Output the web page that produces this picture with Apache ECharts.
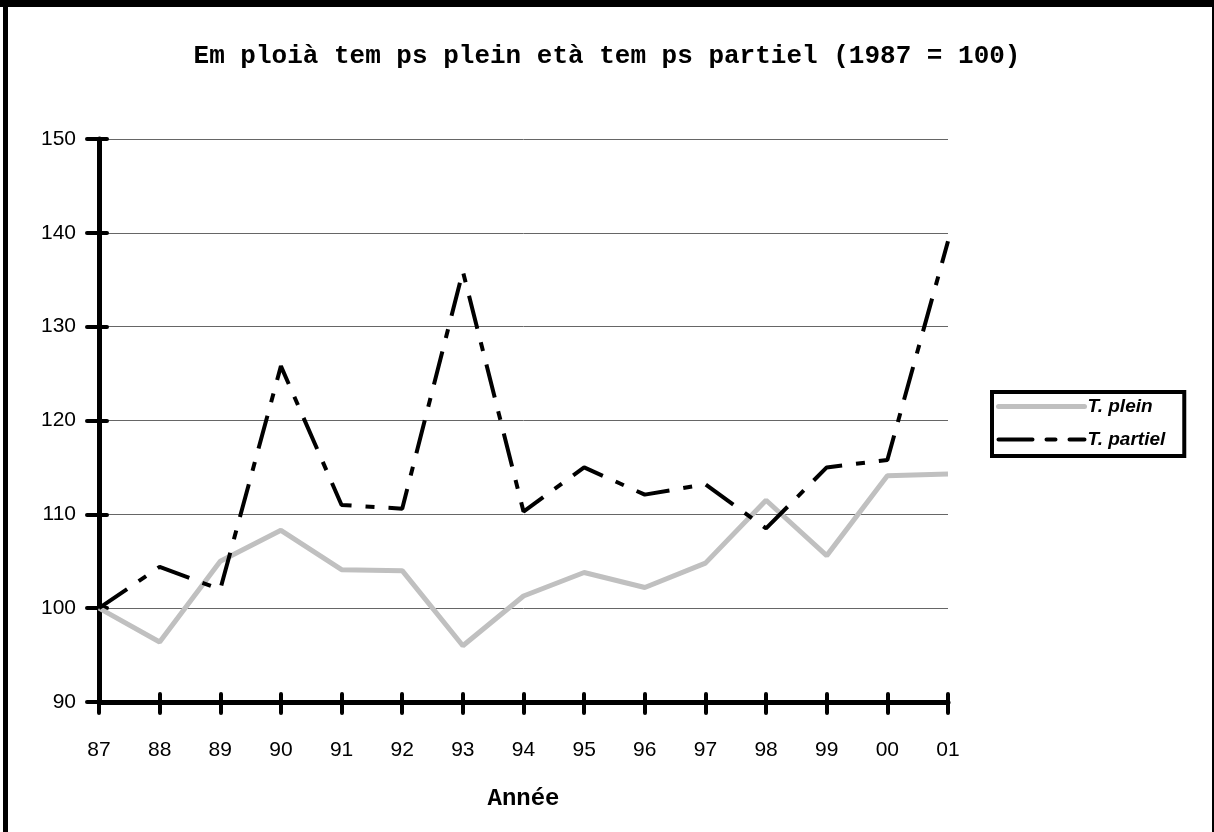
<!DOCTYPE html>
<html>
<head>
<meta charset="utf-8">
<script src="https://cdn.jsdelivr.net/npm/echarts@6/dist/echarts.min.js"></script>
<style>
html,body{margin:0;padding:0;background:#fff;}
#c{width:1214px;height:832px;}
</style>
</head>
<body>
<div id="c"></div>
<script>
const categories = ['87','88','89','90','91','92','93','94','95','96','97','98','99','00','01'];
const tPlein   = [100, 96.4, 105.0, 108.3, 104.1, 104.0, 96.0, 101.3, 103.8, 102.2, 104.8, 111.5, 105.6, 114.1, 114.3];
const tPartiel = [100, 104.4, 102.0, 125.8, 111.0, 110.6, 135.9, 110.3, 115.0, 112.1, 113.2, 108.5, 115.0, 115.8, 139.1];
const titleText = 'Em ploià tem ps plein età tem ps partiel (1987 = 100)';
const xName = 'Année';

const chart = echarts.init(document.getElementById('c'), null, {renderer: 'canvas'});
const gridPos = {left: 99, right: 266, top: 139, bottom: 130};
const labelFont = {fontFamily: 'Liberation Sans, Arial', fontSize: 21, color: '#000'};

chart.setOption({
  backgroundColor: '#fff',
  animation: false,
  title: {
    text: titleText,
    left: 'center',
    top: 38,
    textStyle: {fontFamily: 'Liberation Mono, Courier New, monospace', fontWeight: 'bold', fontSize: 26, color: '#000'}
  },
  graphic: [
    {type: 'rect', shape: {x: 0, y: 0, width: 1214, height: 7}, style: {fill: '#000'}},
    {type: 'rect', shape: {x: 3, y: 0, width: 5, height: 832}, style: {fill: '#000'}},
    {type: 'rect', shape: {x: 1212, y: 0, width: 2, height: 832}, style: {fill: '#000'}}
  ],
  legend: {
    orient: 'vertical',
    left: 992,
    top: 392,
    padding: [5, 19, 7, 4],
    itemGap: 14,
    itemWidth: 86,
    itemHeight: 14,
    borderColor: '#000',
    borderWidth: 4,
    backgroundColor: '#fff',
    itemStyle: {opacity: 0},
    lineStyle: {width: 'inherit', type: 'inherit', cap: 'round'},
    textStyle: {fontFamily: 'Liberation Sans, Arial', fontSize: 19, fontWeight: 'bold', fontStyle: 'italic', color: '#000', padding: [4,0,0,-2]},
    data: ['T. plein', 'T. partiel']
  },
  grid: gridPos,
  xAxis: [{
    type: 'category',
    data: categories,
    boundaryGap: false,
    name: xName,
    nameLocation: 'middle',
    nameGap: 85,
    nameTextStyle: {fontFamily: 'Liberation Mono, Courier New, monospace', fontWeight: 'bold', fontSize: 24, color: '#000'},
    axisLine: {lineStyle: {color: '#000', width: 5}},
    axisTick: {show: true, length: 11, lineStyle: {color: '#000', width: 4, cap: 'round'}},
    axisLabel: Object.assign({margin: 38}, labelFont),
    splitLine: {show: false}
  }, {
    type: 'category',
    data: categories,
    boundaryGap: false,
    position: 'bottom',
    axisLine: {show: false},
    axisTick: {show: true, inside: true, length: 8, lineStyle: {color: '#000', width: 4, cap: 'round'}},
    axisLabel: {show: false},
    splitLine: {show: false}
  }],
  yAxis: [{
    type: 'value',
    min: 90,
    max: 150,
    interval: 10,
    axisLine: {show: true, lineStyle: {color: '#000', width: 5}},
    axisTick: {show: true, length: 12, lineStyle: {color: '#000', width: 4, cap: 'round'}},
    axisLabel: Object.assign({margin: 23}, labelFont),
    splitLine: {show: true, lineStyle: {color: '#666', width: 1}}
  }, {
    type: 'value',
    min: 90,
    max: 150,
    interval: 10,
    position: 'left',
    axisLine: {show: false},
    axisTick: {show: true, inside: true, length: 8, lineStyle: {color: '#000', width: 4, cap: 'round'}},
    axisLabel: {show: false},
    splitLine: {show: false}
  }],
  series: [{
    name: 'T. plein',
    type: 'line',
    data: tPlein,
    symbol: 'none',
    color: '#c0c0c0',
    lineStyle: {color: '#c0c0c0', width: 5},
    z: 3
  }, {
    name: 'T. partiel',
    type: 'line',
    data: tPartiel,
    symbol: 'none',
    color: '#000',
    lineStyle: {color: '#000', width: 4, type: [34, 14, 9, 14]},
    z: 4
  }]
});
</script>
</body>
</html>
